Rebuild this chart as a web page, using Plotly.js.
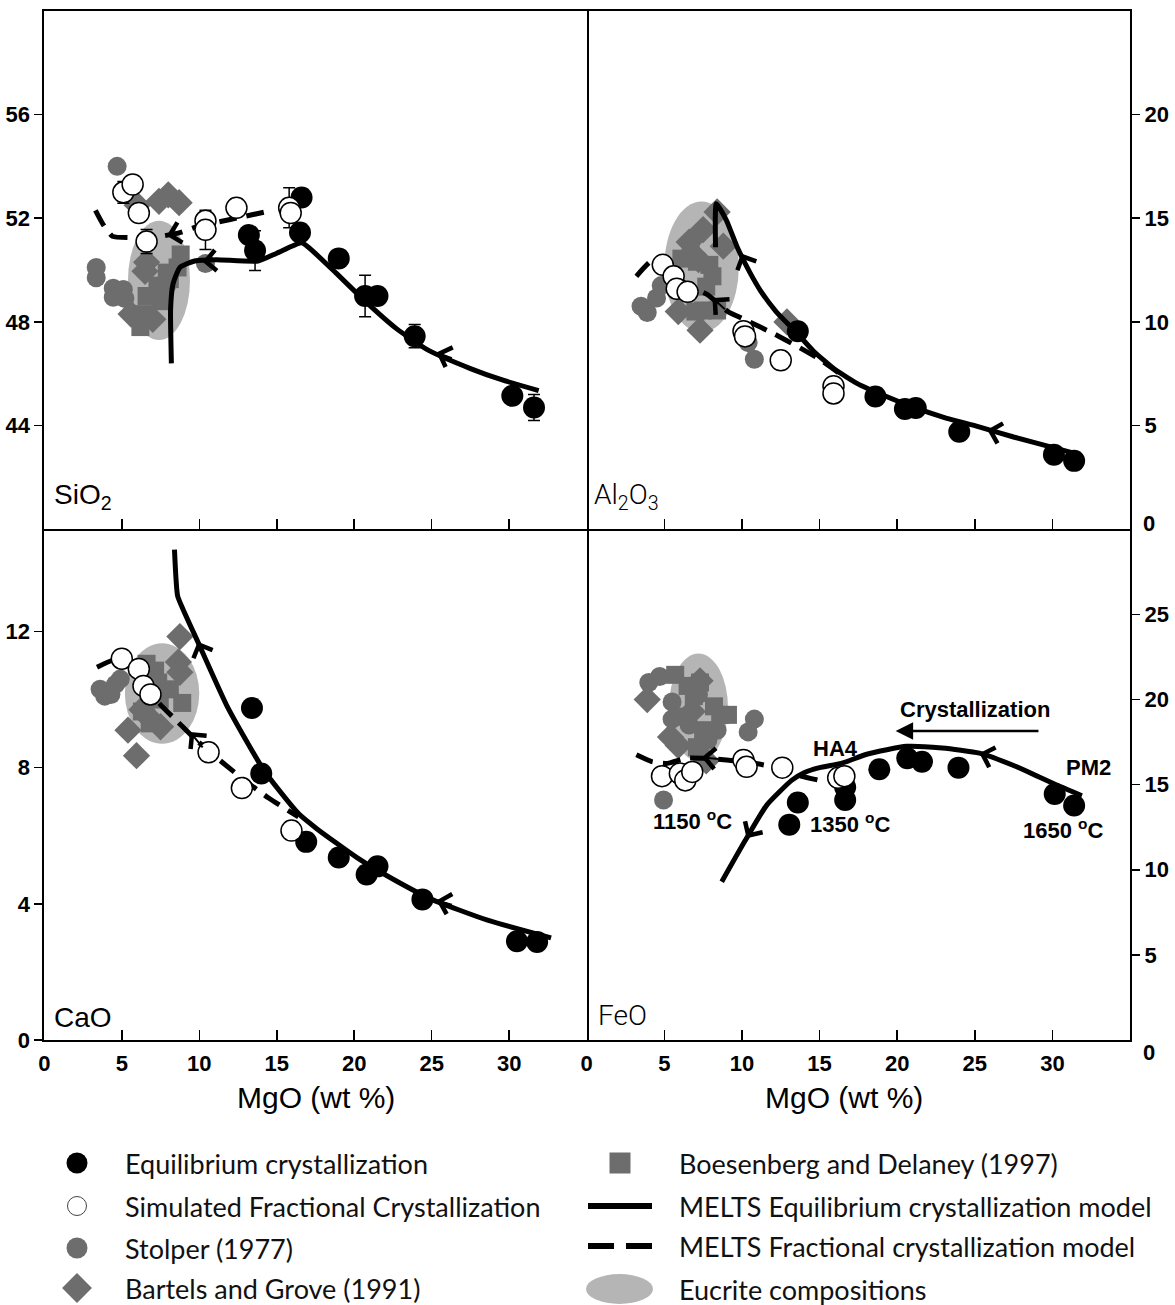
<!DOCTYPE html>
<html><head><meta charset="utf-8">
<script src="https://cdn.plot.ly/plotly-3.0.1.min.js"></script>
<style>html,body{margin:0;padding:0;background:#fff}#chart{width:1175px;height:1305px}</style>
</head><body><div id="chart"></div>
<script>
// ---------------- DATA (MgO wt% on x) ----------------
// SiO2 panel
const siEqMgO = [16.6, 16.5, 13.2, 13.6, 19.0, 20.7, 21.5, 23.9, 30.2, 31.6];
const siEqVal = [52.8, 51.45, 51.35, 50.75, 50.45, 49.0, 49.0, 47.45, 45.15, 44.7];
const siEqErr = [0, 0, 0, 0.77, 0, 0.8, 0, 0.45, 0, 0.5];
const siFrMgO = [5.1, 5.7, 6.1, 6.6, 10.4, 10.4, 12.4, 15.8, 15.9];
const siFrVal = [53.0, 53.3, 52.2, 51.1, 51.9, 51.55, 52.4, 52.4, 52.2];
const siFrErr = [0.42, 0, 0, 0.46, 0, 0.76, 0, 0.77, 0];
const siStMgO = [4.7, 3.35, 3.35, 4.45, 4.45, 5.1, 5.2, 10.4, 7.2, 7.9];
const siStVal = [54.0, 50.1, 49.7, 49.3, 48.95, 49.25, 48.9, 50.25, 49.0, 49.4];
const siBgMgO = [7.4, 8.0, 8.7, 6.0, 6.6, 6.5, 5.6, 7.0];
const siBgVal = [52.65, 52.9, 52.6, 52.5, 50.3, 49.95, 48.3, 48.1];
const siBdMgO = [6.2, 6.4, 7.3, 8.1, 8.6, 8.8, 6.6, 7.5, 7.9];
const siBdVal = [47.8, 48.3, 49.4, 49.65, 50.1, 50.6, 49.0, 48.8, 49.9];
const siEucMgO = [5.4, 9.4];
const siEucVal = [47.3, 51.9];
const siSolidMgO = [8.2, 8.15, 8.3, 8.75, 9.7, 11.1, 13.8, 15.0, 16.6, 17.1, 18.8, 20.7, 22.7, 24.8, 27.5, 29.6, 31.9];
const siSolidVal = [46.4, 48.5, 49.45, 50.1, 50.35, 50.4, 50.35, 50.65, 51.05, 50.85, 49.9, 48.8, 47.75, 46.9, 46.2, 45.75, 45.35];
const siDashMgO = [3.3, 3.8, 4.4, 5.5, 7.5, 8.8, 10.0, 12.0, 14.7];
const siDashVal = [52.3, 51.75, 51.3, 51.25, 51.3, 51.45, 51.7, 51.95, 52.3];
const siArrows = [[11.2, 50.38, 10.2, 50.32], [26.4, 46.58, 25.3, 46.82], [8.9, 51.47, 7.9, 51.32]];

// Al2O3 panel
const alEqMgO = [13.6, 18.6, 20.5, 21.2, 24.0, 30.1, 31.4];
const alEqVal = [9.55, 6.4, 5.8, 5.85, 4.7, 3.6, 3.3];
const alFrMgO = [4.9, 5.6, 5.8, 6.5, 10.1, 10.2, 12.5, 15.9, 15.9];
const alFrVal = [12.75, 12.2, 11.6, 11.45, 9.55, 9.3, 8.15, 6.9, 6.55];
const alStMgO = [3.5, 3.9, 4.5, 4.8, 10.4, 10.8];
const alStVal = [10.75, 10.45, 11.15, 11.75, 9.0, 8.2];
const alBgMgO = [8.4, 7.5, 8.8, 6.6, 5.9, 7.3, 12.9, 7.2];
const alBgVal = [15.3, 14.45, 13.65, 13.85, 10.5, 9.6, 10.0, 13.0];
const alBdMgO = [6.7, 6.1, 7.1, 7.9, 8.1, 7.7, 7.5, 8.4, 7.0];
const alBdVal = [13.7, 13.05, 12.9, 12.75, 12.2, 11.7, 10.55, 10.55, 10.5];
const alEucMgO = [5.0, 9.8];
const alEucVal = [9.5, 15.8];
const alSolidMgO = [8.3, 8.35, 9.0, 9.7, 10.5, 11.2, 12.2, 13.5, 14.6, 16.0, 17.5, 19.0, 21.0, 23.0, 25.0, 27.5, 30.0, 31.5];
const alSolidVal = [13.6, 15.7, 14.9, 13.6, 12.4, 11.5, 10.5, 9.5, 8.6, 7.7, 7.0, 6.5, 5.9, 5.4, 5.0, 4.45, 3.95, 3.65];
const alDashMgO = [3.2, 4.3, 5.2, 6.5, 7.8, 9.1, 10.5, 12.0, 13.5, 15.0, 16.5];
const alDashVal = [12.2, 13.0, 12.45, 11.8, 11.3, 10.5, 10.0, 9.45, 8.85, 8.2, 7.4];
const alArrows = [[10.6, 12.25, 9.95, 13.3], [27.0, 4.55, 25.8, 4.8], [9.0, 10.55, 8.1, 11.15]];

// CaO panel
const caEqMgO = [13.4, 14.0, 16.9, 19.0, 20.8, 21.5, 24.4, 30.5, 31.8];
const caEqVal = [9.75, 7.83, 5.82, 5.36, 4.86, 5.1, 4.13, 2.9, 2.88];
const caFrMgO = [5.0, 6.1, 6.4, 6.85, 10.6, 12.75, 15.95];
const caFrVal = [11.2, 10.9, 10.4, 10.15, 8.45, 7.4, 6.15];
const caStMgO = [3.6, 3.9, 4.3, 4.6, 4.9];
const caStVal = [10.3, 10.1, 10.15, 10.45, 10.6];
const caBgMgO = [8.75, 8.65, 8.75, 5.4, 5.95, 7.5, 6.8, 6.3];
const caBgVal = [11.85, 11.1, 10.8, 9.1, 8.35, 9.2, 9.45, 9.7];
const caBdMgO = [6.6, 7.15, 7.35, 8.1, 8.9, 7.45, 6.3, 6.8];
const caBdVal = [11.05, 10.85, 10.5, 10.3, 9.9, 10.0, 9.65, 9.3];
const caEucMgO = [5.2, 10.0];
const caEucVal = [8.7, 11.65];
const caSolidMgO = [8.4, 8.6, 9.0, 9.9, 11.8, 14.2, 16.4, 17.6, 20.2, 22.6, 25.0, 28.6, 32.7];
const caSolidVal = [14.4, 13.05, 12.6, 11.7, 9.8, 7.9, 6.65, 6.2, 5.35, 4.7, 4.13, 3.52, 3.0];
const caDashMgO = [3.4, 4.4, 5.1, 5.9, 6.7, 7.7, 8.6, 9.7, 11.5, 13.0, 14.5, 16.4];
const caDashVal = [10.95, 11.15, 11.15, 10.8, 10.25, 9.75, 9.35, 8.85, 8.15, 7.6, 7.1, 6.55];
const caArrows = [[10.6, 10.95, 9.9, 11.7], [26.4, 3.96, 25.3, 4.1], [10.3, 8.55, 9.4, 9.05]];

// FeO panel
const feEqMgO = [13.6, 13.05, 16.65, 16.65, 18.85, 20.65, 21.6, 23.95, 30.15, 31.4];
const feEqVal = [13.95, 12.65, 14.85, 14.1, 15.9, 16.55, 16.35, 16.0, 14.45, 13.77];
const feFrMgO = [4.85, 6.0, 6.35, 6.8, 10.1, 10.3, 12.6, 16.2, 16.6];
const feFrVal = [15.5, 15.65, 15.25, 15.75, 16.45, 16.05, 16.0, 15.4, 15.5];
const feStMgO = [4.0, 4.7, 5.5, 5.5, 10.8, 10.4, 4.95, 6.6, 8.4, 7.2, 7.8];
const feStVal = [21.0, 21.35, 19.85, 18.85, 18.85, 18.1, 14.1, 18.5, 18.2, 20.3, 17.6];
const feBgMgO = [3.9, 7.3, 5.4, 5.9, 7.7, 6.8];
const feBgVal = [20.0, 21.1, 17.8, 17.3, 16.4, 19.3];
const feBdMgO = [5.7, 6.9, 8.6, 9.1, 6.2, 7.5, 8.2, 7.1, 7.3, 6.5];
const feBdVal = [21.45, 20.2, 19.1, 19.1, 19.0, 18.2, 19.6, 17.2, 21.0, 20.8];
const feEucMgO = [5.3, 9.1];
const feEucVal = [16.4, 22.7];
const feSolidMgO = [8.7, 10.2, 11.6, 13.2, 14.0, 15.0, 16.4, 18.1, 20.6, 22.9, 25.3, 27.7, 30.1, 31.9];
const feSolidVal = [9.3, 11.7, 13.8, 15.25, 15.7, 16.0, 16.25, 16.8, 17.25, 17.15, 16.85, 16.05, 15.05, 14.35];
const feDashMgO = [3.2, 4.2, 5.2, 6.4, 7.5, 9.0, 10.5, 12.0, 13.8, 15.0];
const feDashVal = [16.75, 16.35, 16.25, 16.55, 16.55, 16.45, 16.3, 16.05, 15.5, 15.25];
const feArrows = [[11.3, 13.3, 10.3, 11.85], [26.5, 16.5, 25.3, 16.85], [8.6, 16.5, 7.4, 16.6]];

// axes ticks
const xTicks = [0, 5, 10, 15, 20, 25, 30];
const siTicks = [44, 48, 52, 56];
const alTicks = [5, 10, 15, 20];
const caTicks = [0, 4, 8, 12];
const feTicks = [5, 10, 15, 20, 25];

const legendLabels = ['Equilibrium crystallization', 'Simulated Fractional Crystallization', 'Stolper (1977)', 'Bartels and Grove (1991)',
  'Boesenberg and Delaney (1997)', 'MELTS Equilibrium crystallization model', 'MELTS Fractional crystallization model', 'Eucrite compositions'];

// ---------------- LAYOUT HELPERS ----------------
const W = 1175, H = 1305;
const px = v => v / W, py = v => 1 - v / H;
const XL = [44.3, 586.7], XR = [586.7, 1130], YT = [10.8, 529.3], YB = [529.3, 1040];
const GREY = '#6d6d6d', ELL = '#b5b5b5';
const SANS = 'Liberation Sans, Arial, Helvetica, sans-serif';
const tickFont = {family: SANS, size: 22, color: '#000', weight: 700};

function xAxis(dom, anchor, labels, mirror) {
  return {domain: [px(dom[0]), px(dom[1])], anchor, range: [0, 35],
    tickvals: labels ? xTicks : xTicks.slice(1), ticks: 'inside', ticklen: 10, tickwidth: 1.5, tickcolor: '#000',
    showticklabels: labels, tickfont: tickFont, ticklabelstandoff: 3,
    showline: true, linewidth: 2, linecolor: '#000', mirror, showgrid: false, zeroline: false, fixedrange: true};
}
function yAxis(dom, anchor, range, tickvals, side, mirror) {
  return {domain: [py(dom[1]), py(dom[0])], anchor, range, tickvals, side,
    ticks: 'outside', ticklen: 8, tickwidth: 1.5, tickcolor: '#000', tickfont: tickFont,
    showline: true, linewidth: 2, linecolor: '#000', mirror, showgrid: false, zeroline: false, fixedrange: true};
}

const traces = [];
const shapes = [];
const annotations = [];

function panel(xa, ya, d) {
  const base = {xaxis: xa, yaxis: ya, hoverinfo: 'skip', cliponaxis: false};
  shapes.push({type: 'circle', xref: xa, yref: ya, x0: d.eucX[0], x1: d.eucX[1], y0: d.eucY[0], y1: d.eucY[1],
    fillcolor: ELL, line: {width: 0}, layer: 'below'});
  traces.push(Object.assign({x: d.stX, y: d.stY, mode: 'markers', marker: {symbol: 'circle', size: 19, color: GREY}}, base));
  traces.push(Object.assign({x: d.bgX, y: d.bgY, mode: 'markers', marker: {symbol: 'diamond', size: 21, color: GREY}}, base));
  traces.push(Object.assign({x: d.bdX, y: d.bdY, mode: 'markers', marker: {symbol: 'square', size: 18, color: GREY}}, base));
  traces.push(Object.assign({x: d.solX, y: d.solY, mode: 'lines', line: {color: '#000', width: 5, shape: 'spline', smoothing: 0.5}}, base));
  traces.push(Object.assign({x: d.dashX, y: d.dashY, mode: 'lines', line: {color: '#000', width: 5, dash: '18px,10px', shape: 'spline', smoothing: 0.5}}, base));
  const eq = Object.assign({x: d.eqX, y: d.eqY, mode: 'markers', marker: {symbol: 'circle', size: 22, color: '#000'}}, base);
  if (d.eqErr) eq.error_y = {type: 'data', array: d.eqErr, visible: true, color: '#000', thickness: 1.5, width: 6};
  traces.push(eq);
  const fr = Object.assign({x: d.frX, y: d.frY, mode: 'markers', marker: {symbol: 'circle', size: 21, color: '#ffffff', line: {color: '#000', width: 1.5}}}, base);
  if (d.frErr) fr.error_y = {type: 'data', array: d.frErr, visible: true, color: '#000', thickness: 1.5, width: 6};
  traces.push(fr);
  d.arrows.forEach(a => annotations.push({xref: xa, yref: ya, axref: xa, ayref: ya, ax: a[0], ay: a[1], x: a[2], y: a[3],
    text: '', showarrow: true, arrowhead: 4, arrowsize: 2, arrowwidth: 2, arrowcolor: '#000', standoff: 0, startstandoff: 0}));
}

panel('x', 'y', {stX: siStMgO, stY: siStVal, bgX: siBgMgO, bgY: siBgVal, bdX: siBdMgO, bdY: siBdVal,
  solX: siSolidMgO, solY: siSolidVal, dashX: siDashMgO, dashY: siDashVal, eqX: siEqMgO, eqY: siEqVal, eqErr: siEqErr,
  frX: siFrMgO, frY: siFrVal, frErr: siFrErr, eucX: siEucMgO, eucY: siEucVal, arrows: siArrows});
panel('x2', 'y2', {stX: alStMgO, stY: alStVal, bgX: alBgMgO, bgY: alBgVal, bdX: alBdMgO, bdY: alBdVal,
  solX: alSolidMgO, solY: alSolidVal, dashX: alDashMgO, dashY: alDashVal, eqX: alEqMgO, eqY: alEqVal,
  frX: alFrMgO, frY: alFrVal, eucX: alEucMgO, eucY: alEucVal, arrows: alArrows});
panel('x3', 'y3', {stX: caStMgO, stY: caStVal, bgX: caBgMgO, bgY: caBgVal, bdX: caBdMgO, bdY: caBdVal,
  solX: caSolidMgO, solY: caSolidVal, dashX: caDashMgO, dashY: caDashVal, eqX: caEqMgO, eqY: caEqVal,
  frX: caFrMgO, frY: caFrVal, eucX: caEucMgO, eucY: caEucVal, arrows: caArrows});
panel('x4', 'y4', {stX: feStMgO, stY: feStVal, bgX: feBgMgO, bgY: feBgVal, bdX: feBdMgO, bdY: feBdVal,
  solX: feSolidMgO, solY: feSolidVal, dashX: feDashMgO, dashY: feDashVal, eqX: feEqMgO, eqY: feEqVal,
  frX: feFrMgO, frY: feFrVal, eucX: feEucMgO, eucY: feEucVal, arrows: feArrows});

// panel labels
const lab = (text, x, y, light) => ({xref: 'paper', yref: 'paper', x: px(x), y: py(y), xanchor: 'left', yanchor: 'middle',
  text, showarrow: false, font: {family: light ? 'Roboto, Liberation Sans, sans-serif' : SANS, size: 28, color: '#000', weight: light ? 300 : 400}});
annotations.push(lab('SiO<sub>2</sub>', 52, 497, false));
annotations.push(lab('Al<sub>2</sub>O<sub>3</sub>', 592, 497, true));
annotations.push(lab('CaO', 52, 1017, false));
annotations.push(lab('FeO', 596, 1015, true));

// x axis titles
[[316, 1097], [844, 1097]].forEach(p => annotations.push({xref: 'paper', yref: 'paper', x: px(p[0]), y: py(p[1]),
  xanchor: 'center', yanchor: 'middle', text: 'MgO (wt %)', showarrow: false, font: {family: SANS, size: 30, color: '#000'}}));
// displaced zero labels of the right axes
[[523], [1052]].forEach(p => annotations.push({xref: 'paper', yref: 'paper', x: px(1141), y: py(p[0]), xanchor: 'left', yanchor: 'middle',
  text: '0', showarrow: false, font: tickFont}));

// FeO panel texts
const bt = (text, x, y) => ({xref: 'x4', yref: 'y4', x, y, xanchor: 'center', yanchor: 'middle', text, showarrow: false,
  font: {family: SANS, size: 22, color: '#000', weight: 700}});
annotations.push(bt('Crystallization', 25.0, 19.4));
annotations.push(bt('HA4', 16.0, 17.15));
annotations.push(bt('PM2', 32.3, 16.0));
annotations.push(bt('1150 <sup>o</sup>C', 6.8, 12.95));
annotations.push(bt('1350 <sup>o</sup>C', 16.95, 12.75));
annotations.push(bt('1650 <sup>o</sup>C', 30.7, 12.4));
annotations.push({xref: 'x4', yref: 'y4', axref: 'x4', ayref: 'y4', x: 19.9, y: 18.15, ax: 29.2, ay: 18.15, text: '',
  showarrow: true, arrowhead: 2, arrowsize: 1.4, arrowwidth: 2.5, arrowcolor: '#000', standoff: 0});

// ---------------- LEGEND (drawn on a hidden pixel-scaled axis) ----------------
const lg = {xaxis: 'x5', yaxis: 'y5', hoverinfo: 'skip', cliponaxis: false, mode: 'markers'};
const c1 = 77, c2 = 620, rows1 = [1163, 1206, 1248, 1288], rows2 = [1163, 1206, 1246, 1289];
traces.push(Object.assign({x: [c1], y: [rows1[0]], marker: {symbol: 'circle', size: 21, color: '#000'}}, lg));
traces.push(Object.assign({x: [c1], y: [rows1[1]], marker: {symbol: 'circle', size: 19, color: '#fff', line: {color: '#444', width: 1}}}, lg));
traces.push(Object.assign({x: [c1], y: [rows1[2]], marker: {symbol: 'circle', size: 21, color: GREY}}, lg));
traces.push(Object.assign({x: [c1], y: [rows1[3]], marker: {symbol: 'diamond', size: 23, color: GREY}}, lg));
traces.push(Object.assign({x: [c2], y: [rows2[0]], marker: {symbol: 'square', size: 21, color: GREY}}, lg));
traces.push(Object.assign({}, lg, {mode: 'lines', x: [588, 652], y: [rows2[1], rows2[1]], line: {color: '#000', width: 6}}));
traces.push(Object.assign({}, lg, {mode: 'lines', x: [588, 652], y: [rows2[2], rows2[2]], line: {color: '#000', width: 6, dash: '26px,12px'}}));
shapes.push({type: 'circle', xref: 'x5', yref: 'y5', x0: 586, x1: 653, y0: rows2[3] - 15, y1: rows2[3] + 15, fillcolor: ELL, line: {width: 0}});
const legFont = {family: 'Lato, Open Sans, sans-serif', size: 27, color: '#111'};
legendLabels.forEach((t, i) => annotations.push({xref: 'x5', yref: 'y5', x: i < 4 ? 123 : 677, y: i < 4 ? rows1[i] : rows2[i - 4],
  xanchor: 'left', yanchor: 'middle', text: t, showarrow: false, font: legFont}));

const layout = {
  width: W, height: H, margin: {l: 0, r: 0, t: 0, b: 0}, showlegend: false,
  paper_bgcolor: '#fff', plot_bgcolor: 'rgba(0,0,0,0)',
  xaxis: xAxis(XL, 'y', false, true), yaxis: yAxis(YT, 'x', [40, 60], siTicks, 'left', true),
  xaxis2: xAxis(XR, 'y2', false, true), yaxis2: yAxis(YT, 'x2', [0, 25], alTicks, 'right', false),
  xaxis3: xAxis(XL, 'y3', true, false), yaxis3: yAxis(YB, 'x3', [0, 15], caTicks, 'left', true),
  xaxis4: xAxis(XR, 'y4', true, false), yaxis4: yAxis(YB, 'x4', [0, 30], feTicks, 'right', false),
  xaxis5: {domain: [0, 1], range: [0, W], visible: false, anchor: 'y5', fixedrange: true},
  yaxis5: {domain: [0, py(1140)], range: [H, 1140], visible: false, anchor: 'x5', fixedrange: true},
  shapes, annotations
};
Plotly.newPlot('chart', traces, layout, {staticPlot: true, displayModeBar: false});
</script>
</body></html>
